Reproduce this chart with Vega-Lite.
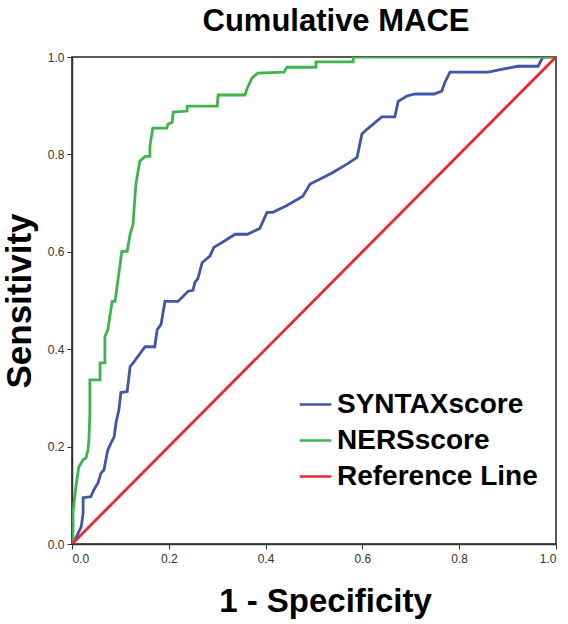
{
  "$schema": "https://vega.github.io/schema/vega-lite/v6.json",
  "autosize": {"type": "none"},
  "width": 484,
  "height": 487,
  "padding": {"left": 72, "top": 57, "right": 12, "bottom": 80},
  "background": "white",
  "title": {"text": "Cumulative MACE", "font": "Liberation Sans", "fontSize": 31, "fontWeight": "bold", "color": "#000000", "anchor": "middle", "offset": 13, "dx": 22},
  "config": {
    "view": {"stroke": "#222222", "strokeWidth": 1.5},
    "axis": {"grid": false, "domainColor": "#333333", "domainWidth": 1.5, "tickColor": "#333333", "tickSize": 5, "labelFont": "Liberation Sans", "labelFontSize": 12, "labelColor": "#333333", "titleFont": "Liberation Sans", "titleFontWeight": "bold", "titleColor": "#000000"}
  },
  "data": {"values": [
    {"series": "SYNTAXscore", "i": 0, "fpr": 0.0, "tpr": 0.0},
    {"series": "SYNTAXscore", "i": 1, "fpr": 0.006, "tpr": 0.008},
    {"series": "SYNTAXscore", "i": 2, "fpr": 0.019, "tpr": 0.035},
    {"series": "SYNTAXscore", "i": 3, "fpr": 0.023, "tpr": 0.064},
    {"series": "SYNTAXscore", "i": 4, "fpr": 0.023, "tpr": 0.095},
    {"series": "SYNTAXscore", "i": 5, "fpr": 0.039, "tpr": 0.097},
    {"series": "SYNTAXscore", "i": 6, "fpr": 0.045, "tpr": 0.111},
    {"series": "SYNTAXscore", "i": 7, "fpr": 0.054, "tpr": 0.126},
    {"series": "SYNTAXscore", "i": 8, "fpr": 0.06, "tpr": 0.146},
    {"series": "SYNTAXscore", "i": 9, "fpr": 0.066, "tpr": 0.152},
    {"series": "SYNTAXscore", "i": 10, "fpr": 0.07, "tpr": 0.173},
    {"series": "SYNTAXscore", "i": 11, "fpr": 0.074, "tpr": 0.193},
    {"series": "SYNTAXscore", "i": 12, "fpr": 0.081, "tpr": 0.208},
    {"series": "SYNTAXscore", "i": 13, "fpr": 0.087, "tpr": 0.22},
    {"series": "SYNTAXscore", "i": 14, "fpr": 0.091, "tpr": 0.249},
    {"series": "SYNTAXscore", "i": 15, "fpr": 0.097, "tpr": 0.276},
    {"series": "SYNTAXscore", "i": 16, "fpr": 0.101, "tpr": 0.311},
    {"series": "SYNTAXscore", "i": 17, "fpr": 0.114, "tpr": 0.313},
    {"series": "SYNTAXscore", "i": 18, "fpr": 0.12, "tpr": 0.364},
    {"series": "SYNTAXscore", "i": 19, "fpr": 0.128, "tpr": 0.374},
    {"series": "SYNTAXscore", "i": 20, "fpr": 0.151, "tpr": 0.405},
    {"series": "SYNTAXscore", "i": 21, "fpr": 0.171, "tpr": 0.405},
    {"series": "SYNTAXscore", "i": 22, "fpr": 0.176, "tpr": 0.44},
    {"series": "SYNTAXscore", "i": 23, "fpr": 0.184, "tpr": 0.451},
    {"series": "SYNTAXscore", "i": 24, "fpr": 0.192, "tpr": 0.498},
    {"series": "SYNTAXscore", "i": 25, "fpr": 0.219, "tpr": 0.498},
    {"series": "SYNTAXscore", "i": 26, "fpr": 0.24, "tpr": 0.519},
    {"series": "SYNTAXscore", "i": 27, "fpr": 0.25, "tpr": 0.521},
    {"series": "SYNTAXscore", "i": 28, "fpr": 0.254, "tpr": 0.537},
    {"series": "SYNTAXscore", "i": 29, "fpr": 0.26, "tpr": 0.545},
    {"series": "SYNTAXscore", "i": 30, "fpr": 0.269, "tpr": 0.578},
    {"series": "SYNTAXscore", "i": 31, "fpr": 0.285, "tpr": 0.591},
    {"series": "SYNTAXscore", "i": 32, "fpr": 0.293, "tpr": 0.609},
    {"series": "SYNTAXscore", "i": 33, "fpr": 0.31, "tpr": 0.619},
    {"series": "SYNTAXscore", "i": 34, "fpr": 0.337, "tpr": 0.636},
    {"series": "SYNTAXscore", "i": 35, "fpr": 0.362, "tpr": 0.636},
    {"series": "SYNTAXscore", "i": 36, "fpr": 0.388, "tpr": 0.648},
    {"series": "SYNTAXscore", "i": 37, "fpr": 0.403, "tpr": 0.681},
    {"series": "SYNTAXscore", "i": 38, "fpr": 0.415, "tpr": 0.681},
    {"series": "SYNTAXscore", "i": 39, "fpr": 0.444, "tpr": 0.695},
    {"series": "SYNTAXscore", "i": 40, "fpr": 0.477, "tpr": 0.714},
    {"series": "SYNTAXscore", "i": 41, "fpr": 0.492, "tpr": 0.739},
    {"series": "SYNTAXscore", "i": 42, "fpr": 0.512, "tpr": 0.749},
    {"series": "SYNTAXscore", "i": 43, "fpr": 0.539, "tpr": 0.763},
    {"series": "SYNTAXscore", "i": 44, "fpr": 0.568, "tpr": 0.78},
    {"series": "SYNTAXscore", "i": 45, "fpr": 0.589, "tpr": 0.794},
    {"series": "SYNTAXscore", "i": 46, "fpr": 0.599, "tpr": 0.842},
    {"series": "SYNTAXscore", "i": 47, "fpr": 0.61, "tpr": 0.852},
    {"series": "SYNTAXscore", "i": 48, "fpr": 0.64, "tpr": 0.877},
    {"series": "SYNTAXscore", "i": 49, "fpr": 0.667, "tpr": 0.877},
    {"series": "SYNTAXscore", "i": 50, "fpr": 0.674, "tpr": 0.909},
    {"series": "SYNTAXscore", "i": 51, "fpr": 0.692, "tpr": 0.92},
    {"series": "SYNTAXscore", "i": 52, "fpr": 0.709, "tpr": 0.924},
    {"series": "SYNTAXscore", "i": 53, "fpr": 0.748, "tpr": 0.924},
    {"series": "SYNTAXscore", "i": 54, "fpr": 0.764, "tpr": 0.93},
    {"series": "SYNTAXscore", "i": 55, "fpr": 0.771, "tpr": 0.949},
    {"series": "SYNTAXscore", "i": 56, "fpr": 0.781, "tpr": 0.969},
    {"series": "SYNTAXscore", "i": 57, "fpr": 0.86, "tpr": 0.969},
    {"series": "SYNTAXscore", "i": 58, "fpr": 0.89, "tpr": 0.975},
    {"series": "SYNTAXscore", "i": 59, "fpr": 0.921, "tpr": 0.981},
    {"series": "SYNTAXscore", "i": 60, "fpr": 0.963, "tpr": 0.981},
    {"series": "SYNTAXscore", "i": 61, "fpr": 0.973, "tpr": 1.0},
    {"series": "SYNTAXscore", "i": 62, "fpr": 1.0, "tpr": 1.0},
    {"series": "NERSscore", "i": 0, "fpr": 0.0, "tpr": 0.0},
    {"series": "NERSscore", "i": 1, "fpr": 0.002, "tpr": 0.008},
    {"series": "NERSscore", "i": 2, "fpr": 0.002, "tpr": 0.064},
    {"series": "NERSscore", "i": 3, "fpr": 0.008, "tpr": 0.117},
    {"series": "NERSscore", "i": 4, "fpr": 0.014, "tpr": 0.158},
    {"series": "NERSscore", "i": 5, "fpr": 0.023, "tpr": 0.173},
    {"series": "NERSscore", "i": 6, "fpr": 0.029, "tpr": 0.177},
    {"series": "NERSscore", "i": 7, "fpr": 0.033, "tpr": 0.193},
    {"series": "NERSscore", "i": 8, "fpr": 0.035, "tpr": 0.214},
    {"series": "NERSscore", "i": 9, "fpr": 0.037, "tpr": 0.27},
    {"series": "NERSscore", "i": 10, "fpr": 0.037, "tpr": 0.337},
    {"series": "NERSscore", "i": 11, "fpr": 0.058, "tpr": 0.337},
    {"series": "NERSscore", "i": 12, "fpr": 0.058, "tpr": 0.372},
    {"series": "NERSscore", "i": 13, "fpr": 0.068, "tpr": 0.372},
    {"series": "NERSscore", "i": 14, "fpr": 0.068, "tpr": 0.426},
    {"series": "NERSscore", "i": 15, "fpr": 0.074, "tpr": 0.44},
    {"series": "NERSscore", "i": 16, "fpr": 0.083, "tpr": 0.498},
    {"series": "NERSscore", "i": 17, "fpr": 0.089, "tpr": 0.498},
    {"series": "NERSscore", "i": 18, "fpr": 0.103, "tpr": 0.601},
    {"series": "NERSscore", "i": 19, "fpr": 0.114, "tpr": 0.601},
    {"series": "NERSscore", "i": 20, "fpr": 0.12, "tpr": 0.636},
    {"series": "NERSscore", "i": 21, "fpr": 0.126, "tpr": 0.656},
    {"series": "NERSscore", "i": 22, "fpr": 0.132, "tpr": 0.739},
    {"series": "NERSscore", "i": 23, "fpr": 0.14, "tpr": 0.786},
    {"series": "NERSscore", "i": 24, "fpr": 0.151, "tpr": 0.796},
    {"series": "NERSscore", "i": 25, "fpr": 0.161, "tpr": 0.796},
    {"series": "NERSscore", "i": 26, "fpr": 0.161, "tpr": 0.817},
    {"series": "NERSscore", "i": 27, "fpr": 0.167, "tpr": 0.854},
    {"series": "NERSscore", "i": 28, "fpr": 0.196, "tpr": 0.854},
    {"series": "NERSscore", "i": 29, "fpr": 0.198, "tpr": 0.862},
    {"series": "NERSscore", "i": 30, "fpr": 0.207, "tpr": 0.866},
    {"series": "NERSscore", "i": 31, "fpr": 0.209, "tpr": 0.887},
    {"series": "NERSscore", "i": 32, "fpr": 0.238, "tpr": 0.889},
    {"series": "NERSscore", "i": 33, "fpr": 0.238, "tpr": 0.899},
    {"series": "NERSscore", "i": 34, "fpr": 0.3, "tpr": 0.899},
    {"series": "NERSscore", "i": 35, "fpr": 0.302, "tpr": 0.922},
    {"series": "NERSscore", "i": 36, "fpr": 0.357, "tpr": 0.922},
    {"series": "NERSscore", "i": 37, "fpr": 0.362, "tpr": 0.936},
    {"series": "NERSscore", "i": 38, "fpr": 0.372, "tpr": 0.957},
    {"series": "NERSscore", "i": 39, "fpr": 0.384, "tpr": 0.967},
    {"series": "NERSscore", "i": 40, "fpr": 0.438, "tpr": 0.969},
    {"series": "NERSscore", "i": 41, "fpr": 0.444, "tpr": 0.979},
    {"series": "NERSscore", "i": 42, "fpr": 0.504, "tpr": 0.979},
    {"series": "NERSscore", "i": 43, "fpr": 0.504, "tpr": 0.99},
    {"series": "NERSscore", "i": 44, "fpr": 0.581, "tpr": 0.99},
    {"series": "NERSscore", "i": 45, "fpr": 0.581, "tpr": 1.0},
    {"series": "NERSscore", "i": 46, "fpr": 1.0, "tpr": 1.0},
    {"series": "Reference Line", "i": 0, "fpr": 0.0, "tpr": 0.0},
    {"series": "Reference Line", "i": 1, "fpr": 1.0, "tpr": 1.0}
  ]},
  "mark": {"type": "line", "strokeWidth": 2.8, "clip": true},
  "encoding": {
    "x": {"field": "fpr", "type": "quantitative", "scale": {"domain": [0, 1], "nice": false}, "axis": {"title": "1 - Specificity", "titleFontSize": 33, "titleX": 253, "values": [0, 0.2, 0.4, 0.6, 0.8, 1.0], "format": ".1f", "labelPadding": 4, "titlePadding": 21}},
    "y": {"field": "tpr", "type": "quantitative", "scale": {"domain": [0, 1], "nice": false}, "axis": {"title": "Sensitivity", "titleFontSize": 35, "values": [0, 0.2, 0.4, 0.6, 0.8, 1.0], "format": ".1f", "labelPadding": 3, "titlePadding": 10}},
    "order": {"field": "i", "type": "quantitative"},
    "color": {"field": "series", "type": "nominal",
      "scale": {"domain": ["SYNTAXscore", "NERSscore", "Reference Line"], "range": ["#3F57A6", "#3DB54A", "#EC2530"]},
      "legend": {"title": null, "orient": "none", "legendX": 226, "legendY": 330, "symbolType": "stroke", "symbolSize": 1000, "symbolStrokeWidth": 2.5, "labelFont": "Liberation Sans", "labelFontSize": 28, "labelFontWeight": "bold", "labelColor": "#000000", "labelLimit": 0, "rowPadding": 4, "labelOffset": 4, "padding": 0}
    }
  }
}
